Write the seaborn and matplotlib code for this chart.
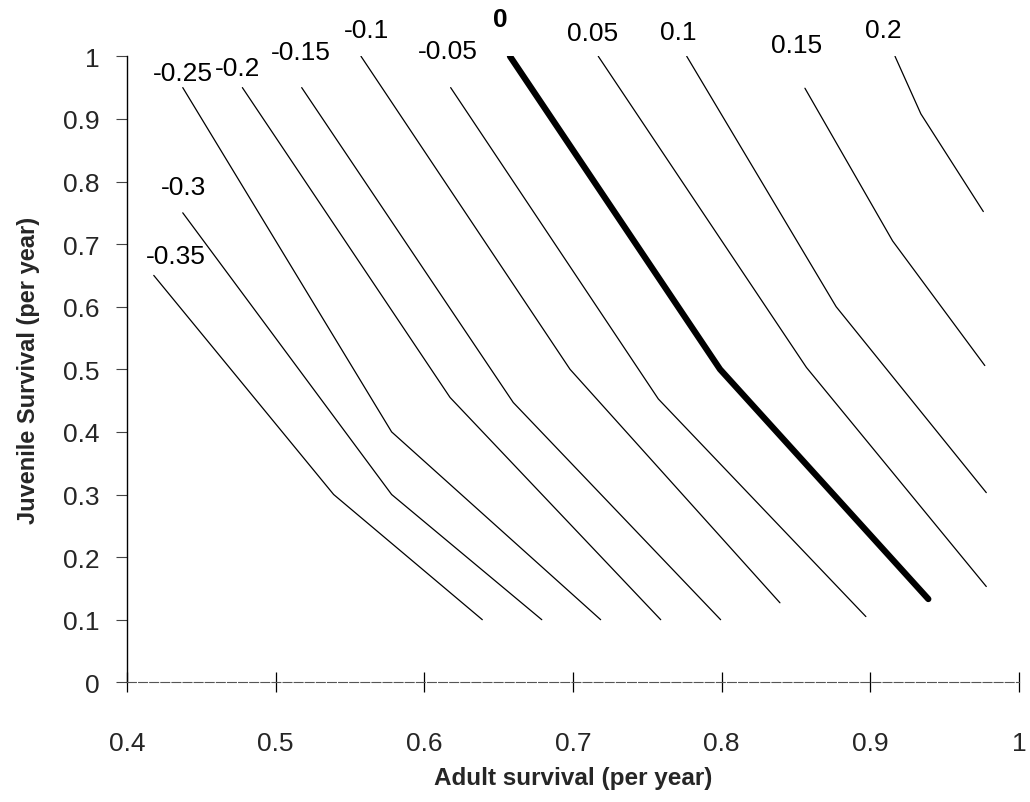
import matplotlib
matplotlib.use("Agg")
import matplotlib.pyplot as plt
import seaborn as sns
import pandas as pd

sns.set_theme(style="white")
plt.rcParams['font.family'] = ['Liberation Sans', 'DejaVu Sans']

# Contour levels (growth rate) and their polylines: adult survival (x), juvenile survival (y)
levels = [-0.35, -0.3, -0.25, -0.2, -0.15, -0.1, -0.05, 0, 0.05, 0.1, 0.15, 0.2]
level_labels = ["-0.35", "-0.3", "-0.25", "-0.2", "-0.15", "-0.1", "-0.05", "0",
                "0.05", "0.1", "0.15", "0.2"]

adult_m035 = [0.418, 0.539, 0.639]
juv_m035 = [0.65, 0.30, 0.10]
adult_m030 = [0.4375, 0.578, 0.679]
juv_m030 = [0.75, 0.30, 0.10]
adult_m025 = [0.4375, 0.578, 0.7186]
juv_m025 = [0.95, 0.40, 0.10]
adult_m020 = [0.4776, 0.6173, 0.759]
juv_m020 = [0.95, 0.455, 0.10]
adult_m015 = [0.5175, 0.6598, 0.7993]
juv_m015 = [0.95, 0.447, 0.10]
adult_m010 = [0.5574, 0.698, 0.8392]
juv_m010 = [1.0, 0.50, 0.127]
adult_m005 = [0.6177, 0.7574, 0.897]
juv_m005 = [0.95, 0.4526, 0.105]
adult_000 = [0.6576, 0.7989, 0.939]
juv_000 = [1.0, 0.50, 0.133]
adult_p005 = [0.717, 0.857, 0.978]
juv_p005 = [1.0, 0.503, 0.153]
adult_p010 = [0.7765, 0.877, 0.978]
juv_p010 = [1.0, 0.60, 0.303]
adult_p015 = [0.856, 0.915, 0.977]
juv_p015 = [0.949, 0.705, 0.506]
adult_p020 = [0.9166, 0.934, 0.976]
juv_p020 = [1.0, 0.908, 0.752]

adult_lines = [adult_m035, adult_m030, adult_m025, adult_m020, adult_m015, adult_m010,
               adult_m005, adult_000, adult_p005, adult_p010, adult_p015, adult_p020]
juv_lines = [juv_m035, juv_m030, juv_m025, juv_m020, juv_m015, juv_m010,
             juv_m005, juv_000, juv_p005, juv_p010, juv_p015, juv_p020]

# Label anchor positions (data coords)
label_x = [0.4329, 0.4383, 0.4377, 0.4747, 0.517, 0.5608, 0.616, 0.651,
           0.7134, 0.7706, 0.8507, 0.909]
label_y = [0.681, 0.791, 0.973, 0.981, 1.007, 1.042, 1.008, 1.06,
           1.037, 1.039, 1.018, 1.042]

x_ticks = [0.4, 0.5, 0.6, 0.7, 0.8, 0.9, 1.0]
x_ticklabels = ["0.4", "0.5", "0.6", "0.7", "0.8", "0.9", "1"]
y_ticks = [0, 0.1, 0.2, 0.3, 0.4, 0.5, 0.6, 0.7, 0.8, 0.9, 1.0]
y_ticklabels = ["0", "0.1", "0.2", "0.3", "0.4", "0.5", "0.6", "0.7", "0.8", "0.9", "1"]

rows = []
for lev, xs, ys in zip(levels, adult_lines, juv_lines):
    for i, (xv, yv) in enumerate(zip(xs, ys)):
        rows.append({"level": lev, "order": i, "adult": xv, "juvenile": yv})
df = pd.DataFrame(rows)

fig = plt.figure(figsize=(10.30, 8.03), dpi=100)
ax = fig.add_axes([127 / 1030, 1 - 683.3 / 803, (1019 - 127) / 1030, (683.3 - 57.3) / 803])

thin = df[df["level"] != 0]
thick = df[df["level"] == 0]
sns.lineplot(data=thin, x="adult", y="juvenile", units="level", estimator=None,
             sort=False, color="black", linewidth=0.9, ax=ax, legend=False)
sns.lineplot(data=thick, x="adult", y="juvenile", estimator=None, sort=False,
             color="black", linewidth=4.5, ax=ax, legend=False,
             solid_capstyle="round")

for lab, lx, ly, lev in zip(level_labels, label_x, label_y, levels):
    ax.text(lx, ly, lab, ha="center", va="center", fontsize=19,
            fontweight="bold" if lev == 0 else "normal", color="black",
            clip_on=False)

ax.set_xlim(0.4, 1.0)
ax.set_ylim(0, 1.0)
ax.set_xticks(x_ticks)
ax.set_xticklabels(x_ticklabels)
ax.set_yticks(y_ticks)
ax.set_yticklabels(y_ticklabels)

for s in ["top", "right"]:
    ax.spines[s].set_visible(False)
ax.spines["left"].set_color("black")
ax.spines["left"].set_linewidth(1.0)
ax.spines["bottom"].set_color("#555555")
ax.spines["bottom"].set_linewidth(0.8)
ax.spines["bottom"].set_linestyle((0, (8, 2)))

ax.tick_params(axis="x", bottom=True, direction="inout", length=14, width=0.9,
               color="black", pad=28, labelsize=19)
ax.tick_params(axis="y", left=True, direction="out", length=8, width=0.8,
               color="#444444", pad=12, labelsize=19)
ax.grid(False)

ax.set_xlabel("Adult survival (per year)", fontsize=17.5, fontweight="bold",
              labelpad=8)
ax.set_ylabel("Juvenile Survival (per year)", fontsize=17, fontweight="bold",
              labelpad=16)

fig.savefig("out.png", dpi=100, facecolor="white")
